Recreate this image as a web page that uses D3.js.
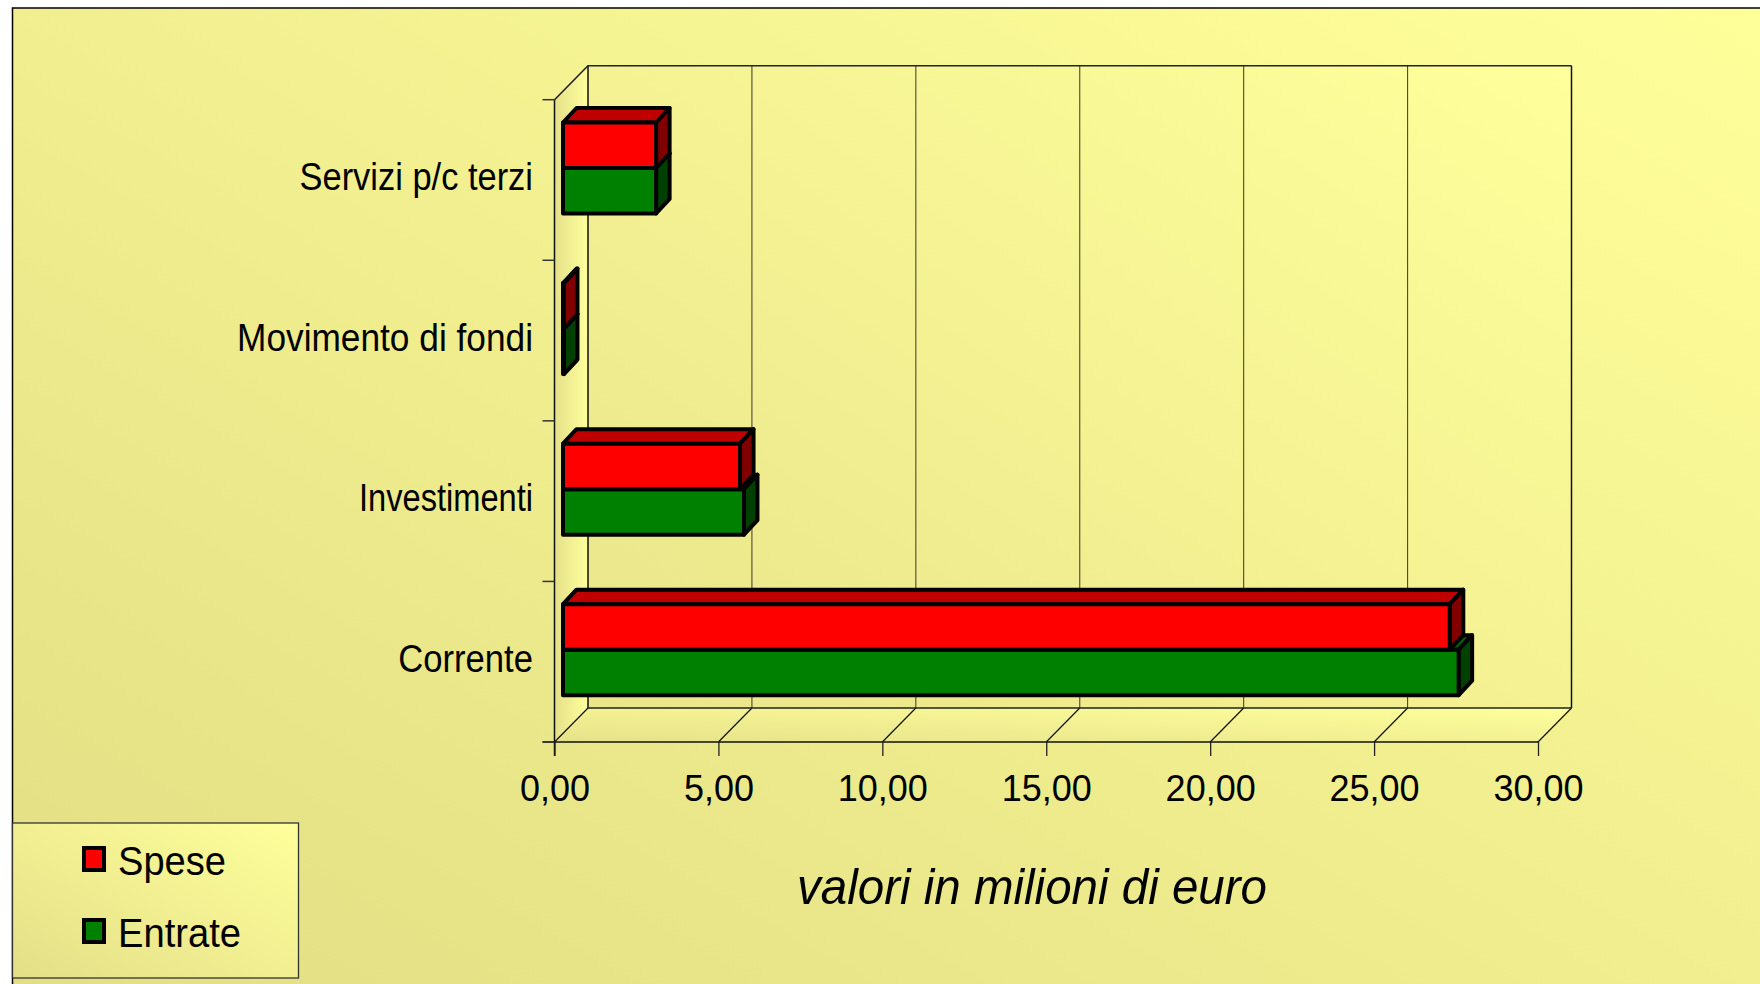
<!DOCTYPE html>
<html><head><meta charset="utf-8">
<script src="https://cdn.jsdelivr.net/npm/d3@7"></script>
<style>html,body{margin:0;padding:0;background:#fff;overflow:hidden}</style>
</head><body>
<svg id="c" width="1760" height="984"></svg>
<script>
// ---- data ----
const categories = ["Servizi p/c terzi", "Movimento di fondi", "Investimenti", "Corrente"];
const seriesNames = ["Spese", "Entrate"];
const spese = [2.84, 0.03, 5.40, 27.05];
const entrate = [2.84, 0.03, 5.52, 27.32];
const xTicks = [0, 5, 10, 15, 20, 25, 30];
const xTickLabels = ["0,00", "5,00", "10,00", "15,00", "20,00", "25,00", "30,00"];
const axisTitle = "valori in milioni di euro";

// ---- layout ----
const FONT = "'Liberation Sans', Arial, sans-serif";
const FX0 = 554.5, FX1 = 1538, FY0 = 99.7, FY1 = 742;
const DX = 33.5, DY = -34;            // depth of the plot box
const BOFF = 8.5, BSHIFT = -12;        // bar front plane offset
const BDX = 13.5, BDY = -14.5;         // bar depth
const labelWidths = [233.5, 296, 174, 134.7];
const colors = {
  Spese: {front: "#FF0000", top: "#C00000", side: "#800000"},
  Entrate: {front: "#008000", top: "#006000", side: "#004000"}
};

const svg = d3.select("#c");
const defs = svg.append("defs");
function grad(id, x1, y1, x2, y2, c1, c2) {
  const g = defs.append("linearGradient").attr("id", id)
    .attr("x1", x1).attr("y1", y1).attr("x2", x2).attr("y2", y2);
  g.append("stop").attr("offset", "0%").attr("stop-color", c1);
  g.append("stop").attr("offset", "100%").attr("stop-color", c2);
}
grad("bg", "0%", "100%", "100%", "0%", "#E2DE84", "#FFFF9A");
grad("wall", "0%", "100%", "100%", "0%", "#E9E58B", "#FFFF9B");
grad("lwall", "0%", "0%", "100%", "0%", "#E4E089", "#FFFF9D");
grad("floor", "0%", "100%", "100%", "0%", "#E6E28A", "#FFFF9C");
grad("leg", "0%", "100%", "100%", "0%", "#E3DF88", "#FFFF9B");

// background frame
svg.append("rect").attr("x", 12.5).attr("y", 8).attr("width", 1760).attr("height", 990)
  .attr("fill", "url(#bg)").attr("stroke", "#000").attr("stroke-width", 1.5);

const x = d3.scaleLinear().domain([0, 30]).range([FX0, FX1]);
const yCat = d3.scaleBand().domain(categories).range([FY0, FY1]);
const ySer = d3.scaleBand().domain(seriesNames).range([0, yCat.bandwidth()]).paddingOuter(0.765);

const line = d3.line();
// back wall
svg.append("rect").attr("x", x(0) + DX).attr("y", FY0 + DY)
  .attr("width", x(30) - x(0)).attr("height", FY1 - FY0)
  .attr("fill", "url(#wall)");
// left wall
svg.append("path").attr("d", line([[x(0), FY0], [x(0) + DX, FY0 + DY], [x(0) + DX, FY1 + DY], [x(0), FY1]]) + "Z")
  .attr("fill", "url(#lwall)");
// floor
svg.append("path").attr("d", line([[x(0), FY1], [x(0) + DX, FY1 + DY], [x(30) + DX, FY1 + DY], [x(30), FY1]]) + "Z")
  .attr("fill", "url(#floor)");

// gridlines on back wall
svg.append("g").selectAll("line").data(xTicks).join("line")
  .attr("x1", d => x(d) + DX).attr("x2", d => x(d) + DX)
  .attr("y1", FY0 + DY).attr("y2", FY1 + DY)
  .attr("stroke", d => (d === 0 || d === 30) ? "#111" : "#4a4a30").attr("stroke-width", d => (d === 0 || d === 30) ? 1.5 : 1.1);
// floor diagonals
svg.append("g").selectAll("line").data(xTicks).join("line")
  .attr("x1", d => x(d) + DX).attr("y1", FY1 + DY)
  .attr("x2", d => x(d)).attr("y2", FY1)
  .attr("stroke", "#111").attr("stroke-width", 1.2);
// box edges
svg.append("path").attr("d", line([[x(0), FY0], [x(0) + DX, FY0 + DY], [x(30) + DX, FY0 + DY]]))
  .attr("fill", "none").attr("stroke", "#222").attr("stroke-width", 1.6);
svg.append("path").attr("d", line([[x(0) + DX, FY1 + DY], [x(30) + DX, FY1 + DY]]))
  .attr("fill", "none").attr("stroke", "#222").attr("stroke-width", 1.3);
svg.append("line").attr("x1", x(0)).attr("x2", x(0)).attr("y1", FY0).attr("y2", FY1 + 14)
  .attr("stroke", "#111").attr("stroke-width", 1.5);
svg.append("line").attr("x1", x(0) - 12).attr("x2", x(30)).attr("y1", FY1).attr("y2", FY1)
  .attr("stroke", "#111").attr("stroke-width", 1.5);

// category tick marks on left wall edge
const bounds = categories.map(c => yCat(c)).concat([FY1]);
svg.append("g").selectAll("line").data(bounds).join("line")
  .attr("x1", x(0) - 12).attr("x2", x(0)).attr("y1", d => d).attr("y2", d => d)
  .attr("stroke", "#333").attr("stroke-width", 1.5);

// category labels
svg.append("g").selectAll("text").data(categories).join("text")
  .attr("x", 533).attr("y", d => yCat(d) + yCat.bandwidth() / 2 + 10)
  .attr("text-anchor", "end").attr("font-family", FONT).attr("font-size", 38)
  .attr("textLength", (d, i) => labelWidths[i]).attr("lengthAdjust", "spacingAndGlyphs")
  .attr("fill", "#000").text(d => d);

// x axis
const xAxis = d3.axisBottom(x).tickValues(xTicks).tickFormat((d, i) => xTickLabels[i]).tickSize(14);
const gx = svg.append("g").attr("transform", `translate(0,${FY1})`).call(xAxis);
gx.select(".domain").remove();
gx.selectAll(".tick line").attr("stroke", "#222").attr("stroke-width", 1.3);
gx.selectAll(".tick text").attr("font-family", FONT).attr("font-size", 36).attr("fill", "#000")
  .attr("y", 33);

// axis title
svg.append("text").attr("x", 1032).attr("y", 904).attr("text-anchor", "middle")
  .attr("font-family", FONT).attr("font-size", 50).attr("font-style", "italic")
  .attr("textLength", 470).attr("lengthAdjust", "spacingAndGlyphs")
  .text(axisTitle);

// bars
const valuesBySeries = {Spese: spese, Entrate: entrate};
const barData = [];
categories.forEach((c, i) => {
  ["Entrate", "Spese"].forEach(s => barData.push({cat: c, s, v: valuesBySeries[s][i]}));
});
const gb = svg.append("g");
barData.forEach(d => {
  const x0 = x(0) + BOFF, x1 = x(d.v) + BOFF;
  const y0 = yCat(d.cat) + ySer(d.s) + BSHIFT, y1 = y0 + ySer.bandwidth();
  const col = colors[d.s];
  const g = gb.append("g").attr("stroke", "#000").attr("stroke-width", 4).attr("stroke-linejoin", "round");
  g.append("path").attr("d", line([[x0, y0], [x0 + BDX, y0 + BDY], [x1 + BDX, y0 + BDY], [x1, y0]]) + "Z").attr("fill", col.top);
  g.append("path").attr("d", line([[x1, y0], [x1 + BDX, y0 + BDY], [x1 + BDX, y1 + BDY], [x1, y1]]) + "Z").attr("fill", col.side);
  g.append("path").attr("d", line([[x0, y0], [x1, y0], [x1, y1], [x0, y1]]) + "Z").attr("fill", col.front);
});

// legend
const lg = svg.append("g");
lg.append("rect").attr("x", 12.5).attr("y", 823).attr("width", 286).attr("height", 155)
  .attr("fill", "url(#leg)").attr("stroke", "#333").attr("stroke-width", 1.3);
const legY = {Spese: 848, Entrate: 920};
const legW = {Spese: 108, Entrate: 123};
seriesNames.forEach(s => {
  lg.append("rect").attr("x", 84).attr("y", legY[s]).attr("width", 20).attr("height", 22)
    .attr("fill", colors[s].front).attr("stroke", "#000").attr("stroke-width", 4);
  lg.append("text").attr("x", 118).attr("y", legY[s] + 26.5)
    .attr("font-family", FONT).attr("font-size", 41)
    .attr("textLength", legW[s]).attr("lengthAdjust", "spacingAndGlyphs").text(s);
});
</script>
</body></html>
